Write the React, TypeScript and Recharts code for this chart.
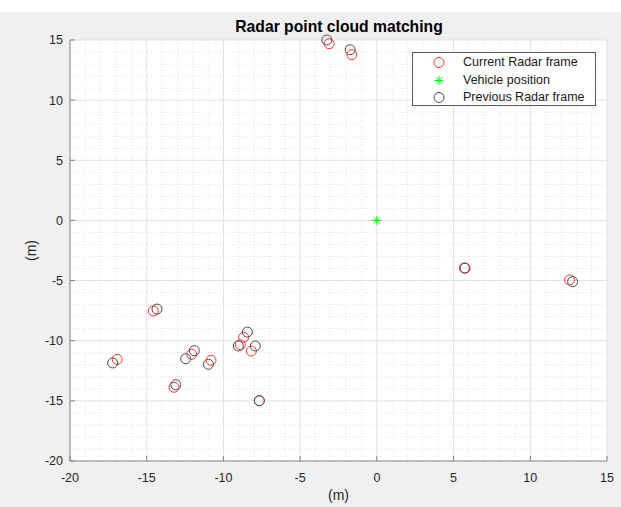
import React from "react";
import {
  ScatterChart,
  Scatter,
  XAxis,
  YAxis,
  ReferenceLine,
  ReferenceArea,
} from "recharts";

const TITLE = "Radar point cloud matching";
const X_LABEL = "(m)";
const Y_LABEL = "(m)";
const LEGEND_LABELS = ["Current Radar frame", "Vehicle position", "Previous Radar frame"];

const xTicks = [-20, -15, -10, -5, 0, 5, 10, 15];
const yTicks = [-20, -15, -10, -5, 0, 5, 10, 15];
const minorX: number[] = [];
for (let v = -20; v <= 15; v += 1) if (v % 5 !== 0) minorX.push(v);
const minorY: number[] = [];
for (let v = -20; v <= 15; v += 1) if (v % 5 !== 0) minorY.push(v);

const currentFrame = [
  { x: -3.11, y: 14.69 },
  { x: -1.63, y: 13.78 },
  { x: 5.7, y: -3.95 },
  { x: 12.56, y: -4.95 },
  { x: -14.57, y: -7.53 },
  { x: -16.92, y: -11.55 },
  { x: -13.22, y: -13.87 },
  { x: -12.07, y: -11.13 },
  { x: -10.81, y: -11.63 },
  { x: -8.9, y: -10.33 },
  { x: -8.68, y: -9.72 },
  { x: -8.18, y: -10.86 },
  { x: -7.66, y: -14.99 },
];

const previousFrame = [
  { x: -3.26, y: 15.0 },
  { x: -1.74, y: 14.19 },
  { x: 5.75, y: -3.97 },
  { x: 12.76, y: -5.09 },
  { x: -14.33, y: -7.37 },
  { x: -17.22, y: -11.85 },
  { x: -13.11, y: -13.66 },
  { x: -12.46, y: -11.5 },
  { x: -11.9, y: -10.83 },
  { x: -10.98, y: -11.96 },
  { x: -9.03, y: -10.44 },
  { x: -8.44, y: -9.28 },
  { x: -7.92, y: -10.44 },
  { x: -7.66, y: -14.99 },
];

const vehicle = [{ x: 0, y: 0 }];

const RED = "#ff3030";
const BLACK = "#4a4a4a";
const GREEN = "#00ff00";
const FONT = "'Liberation Sans', Arial, Helvetica, sans-serif";

const circleShape = (color: string) => (props: any) => (
  <circle cx={props.cx} cy={props.cy} r={5} fill="none" stroke={color} strokeWidth={1} />
);

const Asterisk = ({ cx, cy, s = 4.5 }: { cx: number; cy: number; s?: number }) => {
  const d = s * 0.72;
  return (
    <g stroke={GREEN} strokeWidth={1}>
      <line x1={cx - s} y1={cy} x2={cx + s} y2={cy} />
      <line x1={cx} y1={cy - s} x2={cx} y2={cy + s} />
      <line x1={cx - d} y1={cy - d} x2={cx + d} y2={cy + d} />
      <line x1={cx - d} y1={cy + d} x2={cx + d} y2={cy - d} />
    </g>
  );
};

const asteriskShape = (props: any) => <Asterisk cx={props.cx} cy={props.cy} />;

export default function App() {
  const tickStyle = { fill: "#262626", fontSize: 12.5, fontFamily: FONT };
  return (
    <div
      style={{
        position: "absolute",
        left: 0,
        top: 0,
        width: 621,
        height: 507,
        background: "#ffffff",
        fontFamily: FONT,
      }}
    >
      <div style={{ position: "absolute", left: 0, top: 12, width: 621, height: 495, background: "#f0f0f0" }} />
      <div style={{ position: "absolute", left: 0, top: 0 }}>
        <ScatterChart width={621} height={507} margin={{ top: 40, right: 14, bottom: 0, left: 0 }}>
          <XAxis
            type="number"
            dataKey="x"
            domain={[-20, 15]}
            ticks={xTicks}
            interval={0}
            height={46}
            tickSize={-5}
            tickMargin={17}
            stroke="#808080"
            tick={tickStyle}
            label={{ value: X_LABEL, position: "insideBottom", offset: 7, fill: "#262626", fontSize: 14, fontFamily: FONT }}
          />
          <YAxis
            type="number"
            dataKey="y"
            domain={[-20, 15]}
            ticks={yTicks}
            interval={0}
            width={70}
            tickSize={-5}
            tickMargin={12}
            stroke="#808080"
            tick={tickStyle}
            label={{ value: Y_LABEL, position: "center", angle: -90, dx: -4, fill: "#262626", fontSize: 14, fontFamily: FONT }}
          />
          <ReferenceArea x1={-20} x2={15} y1={-20} y2={15} fill="#ffffff" fillOpacity={1} stroke="none" />
          {minorX.map((v) => (
            <ReferenceLine key={"mx" + v} x={v} stroke="#e4e4e4" strokeDasharray="1 2" />
          ))}
          {minorY.map((v) => (
            <ReferenceLine key={"my" + v} y={v} stroke="#e4e4e4" strokeDasharray="1 2" />
          ))}
          {xTicks.slice(1).map((v) => (
            <ReferenceLine key={"Mx" + v} x={v} stroke="#e2e2e2" />
          ))}
          {yTicks.slice(1).map((v) => (
            <ReferenceLine key={"My" + v} y={v} stroke="#e2e2e2" />
          ))}
          <Scatter name={LEGEND_LABELS[0]} data={currentFrame} shape={circleShape(RED)} isAnimationActive={false} />
          <Scatter name={LEGEND_LABELS[1]} data={vehicle} shape={asteriskShape} isAnimationActive={false} />
          <Scatter name={LEGEND_LABELS[2]} data={previousFrame} shape={circleShape(BLACK)} isAnimationActive={false} />
        </ScatterChart>
      </div>
      <div
        style={{
          position: "absolute",
          left: 139,
          top: 17,
          width: 400,
          textAlign: "center",
          fontWeight: "bold",
          fontSize: 15.7,
          lineHeight: "19px",
          color: "#000",
        }}
      >
        {TITLE}
      </div>
      <div
        style={{
          position: "absolute",
          left: 412,
          top: 52,
          width: 182,
          height: 52,
          background: "#ffffff",
          border: "1px solid #5a5a5a",
          fontSize: 12.5,
          color: "#1a1a1a",
        }}
      >
        {LEGEND_LABELS.map((label, i) => (
          <div
            key={label}
            style={{ position: "absolute", left: 0, top: 1 + i * 17.5, height: 17, width: 182, lineHeight: "17px" }}
          >
            <svg width={20} height={17} style={{ position: "absolute", left: 16, top: 0 }}>
              {i === 0 && <circle cx={10} cy={8.5} r={5} fill="none" stroke={RED} strokeWidth={1} />}
              {i === 1 && <Asterisk cx={10} cy={8.5} />}
              {i === 2 && <circle cx={10} cy={8.5} r={5} fill="none" stroke={BLACK} strokeWidth={1} />}
            </svg>
            <span style={{ position: "absolute", left: 50, top: 0, whiteSpace: "nowrap" }}>{label}</span>
          </div>
        ))}
      </div>
    </div>
  );
}
